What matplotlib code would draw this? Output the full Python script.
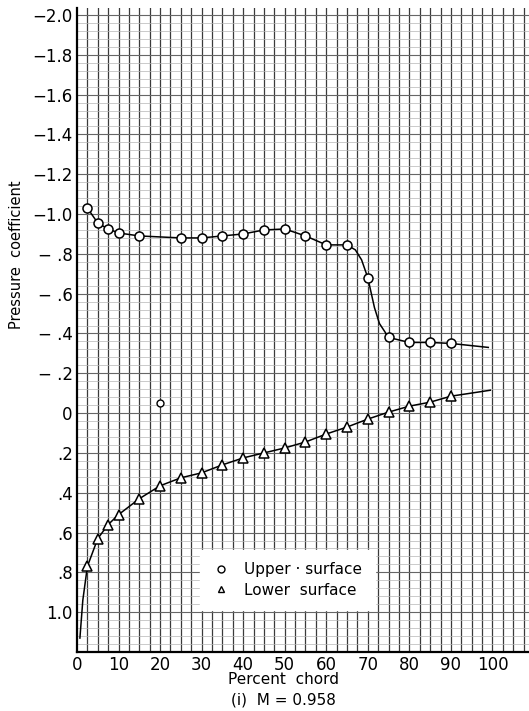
import numpy as np
import matplotlib
matplotlib.use("Agg")
import matplotlib.pyplot as plt
from matplotlib.lines import Line2D

# upper surface orifices (percent chord, Cp)
upper_x = [2.5, 5, 7.5, 10, 15, 25, 30, 35, 40, 45, 50, 55, 60, 65, 70, 75, 80, 85, 90]
upper_cp = [-1.03, -0.955, -0.925, -0.905, -0.89, -0.88, -0.88, -0.89, -0.90, -0.92,
            -0.925, -0.89, -0.845, -0.845, -0.68, -0.38, -0.355, -0.355, -0.35]
# stray upper-surface reading at 20 percent
upper_odd_x = [20]
upper_odd_cp = [-0.05]

# lower surface orifices
lower_x = [2.5, 5, 7.5, 10, 15, 20, 25, 30, 35, 40, 45, 50, 55, 60, 65, 70, 75, 80, 85, 90]
lower_cp = [0.77, 0.63, 0.56, 0.51, 0.43, 0.365, 0.325, 0.30, 0.26, 0.225, 0.20, 0.175,
            0.145, 0.105, 0.07, 0.03, -0.005, -0.035, -0.055, -0.085]

# faired curves as drawn on the original sheet
upper_fair_x = [2.5, 5, 7.5, 10, 15, 25, 30, 35, 40, 45, 50, 55, 60, 65, 67, 68.5, 70,
                71.6, 72.8, 75, 80, 85, 90, 99]
upper_fair_cp = [-1.03, -0.955, -0.925, -0.905, -0.89, -0.88, -0.88, -0.89, -0.90, -0.92,
                 -0.925, -0.89, -0.845, -0.845, -0.82, -0.77, -0.68, -0.53, -0.45, -0.38,
                 -0.355, -0.355, -0.35, -0.33]
lower_fair_x = [0.7, 1.4, 2.5, 5, 7.5, 10, 15, 20, 25, 30, 35, 40, 45, 50, 55, 60, 65,
                70, 75, 80, 85, 90, 99.5]
lower_fair_cp = [1.13, 0.94, 0.77, 0.63, 0.56, 0.51, 0.43, 0.365, 0.325, 0.30, 0.26, 0.225,
                 0.20, 0.175, 0.145, 0.105, 0.07, 0.03, -0.005, -0.035, -0.055, -0.085, -0.115]

xticks = list(range(0, 101, 10))
yticks = [-2.0, -1.8, -1.6, -1.4, -1.2, -1.0, -0.8, -0.6, -0.4, -0.2, 0, 0.2, 0.4, 0.6, 0.8, 1.0]
ytick_labels = ["\u22122.0", "\u22121.8", "\u22121.6", "\u22121.4", "\u22121.2", "\u22121.0",
                "\u2212 .8", "\u2212 .6", "\u2212 .4", "\u2212 .2", "0", ".2", ".4", ".6", ".8", "1.0"]

fig = plt.figure(figsize=(5.29, 7.11), dpi=100)
ax = fig.add_axes([77 / 529, 59 / 711, 452 / 529, 644 / 711])

ax.set_xlim(0, 108.8)
ax.set_ylim(1.2, -2.035)

# graph paper
for gx in np.arange(2.5, 110, 2.5):
    ax.axvline(gx, color="#3a3a3a", lw=0.9, zorder=0)
for gy in np.arange(-2.0, 1.2, 0.04):
    ax.axhline(gy, color="#b5b5b5", lw=0.5, zorder=0)
for gy in np.arange(-2.0, 1.2, 0.2):
    ax.axhline(gy, color="#666666", lw=0.8, zorder=0)

ax.plot(upper_fair_x, upper_fair_cp, color="black", lw=1.1, zorder=2)
ax.plot(lower_fair_x, lower_fair_cp, color="black", lw=1.1, zorder=2)
ax.plot(upper_x, upper_cp, "o", ms=6.5, mfc="white", mec="black", mew=1.1, zorder=3)
ax.plot(upper_odd_x, upper_odd_cp, "o", ms=5, mfc="white", mec="black", mew=1.0, zorder=3)
ax.plot(lower_x, lower_cp, "^", ms=7, mfc="white", mec="black", mew=1.1, zorder=3)

ax.set_xticks(xticks)
ax.set_xticklabels([str(t) for t in xticks], fontsize=12)
ax.set_yticks(yticks)
ax.set_yticklabels(ytick_labels, fontsize=12)
ax.tick_params(length=0, pad=3)

for side in ["top", "right"]:
    ax.spines[side].set_visible(False)
ax.spines["left"].set_linewidth(1.6)
ax.spines["bottom"].set_linewidth(1.6)

handles = [
    Line2D([], [], ls="none", marker="o", ms=5, mfc="white", mec="black", mew=1.0),
    Line2D([], [], ls="none", marker="^", ms=5, mfc="white", mec="black", mew=1.0),
]
leg = ax.legend(handles, ["Upper \u00b7 surface", "Lower  surface"], loc="upper left",
                bbox_to_anchor=(200 / 529, 1 - 550 / 711), bbox_transform=fig.transFigure,
                frameon=True, fancybox=False, edgecolor="white", facecolor="white",
                framealpha=1, fontsize=11, handlelength=1.2, handletextpad=0.9,
                borderpad=0.8, borderaxespad=0, labelspacing=0.35)
leg.set_zorder(5)

fig.text(283 / 529, 1 - 680 / 711, "Percent  chord", ha="center", va="center", fontsize=11)
fig.text(283 / 529, 1 - 700 / 711, "(i)  M = 0.958", ha="center", va="center", fontsize=11)
fig.text(17 / 529, 1 - 255 / 711, "Pressure  coefficient", ha="center", va="center",
         rotation=90, fontsize=10.5)

fig.savefig("out.png", dpi=100)
